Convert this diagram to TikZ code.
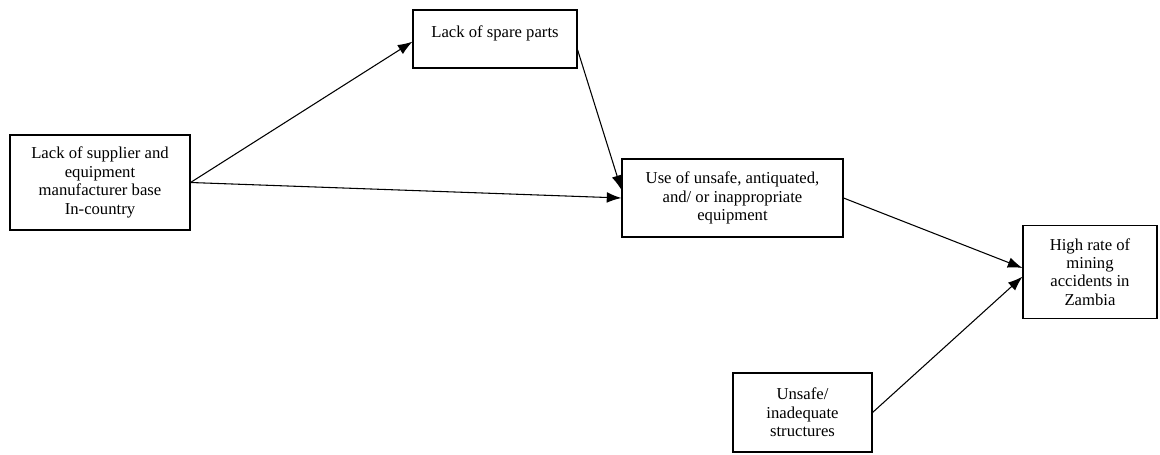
\documentclass[tikz,border=0pt]{standalone}
\usepackage{fontspec}
\setmainfont{Liberation Serif}
\usetikzlibrary{arrows.meta}

\begin{document}
\begin{tikzpicture}[x=0.75pt,y=-0.75pt,
	box/.style={draw,line width=0.8pt,align=center,inner sep=2pt,font=\fontsize{12.5}{13.8}\selectfont},
	link/.style={-{Latex[length=11pt,width=8pt]},line width=0.8pt}]
	\useasboundingbox (0,0) rectangle (1160,454);
	\node[box,minimum width=135pt,minimum height=71.25pt] (supplier) at (100,182.5) {Lack of supplier and\\equipment\\manufacturer base\\In-country};
	\node[box,minimum width=123pt,minimum height=43.5pt] (spare) at (495,39) {Lack of spare parts\\[-3pt]\mbox{}};
	\node[box,minimum width=165.75pt,minimum height=58.5pt] (equip) at (732.5,198) {Use of unsafe, antiquated,\\and/ or inappropriate\\equipment};
	\node[box,minimum width=100.5pt,minimum height=69.75pt] (accidents) at (1090,272) {High rate of\\mining\\accidents in\\Zambia};
	\node[box,minimum width=104.25pt,minimum height=59.25pt] (structures) at (802.5,412.5) {Unsafe/\\inadequate\\structures};
	\draw[link] (supplier.east) -- ([yshift=-2pt]spare.west);
	\draw[link] (supplier.east) -- (equip.west);
	\draw[link] ([yshift=-8pt]spare.east) -- ([yshift=6pt]equip.west);
	\draw[link] (equip.east) -- ([yshift=3pt]accidents.west);
	\draw[link] (structures.east) -- ([yshift=-3.5pt]accidents.west);
\end{tikzpicture}
\end{document}
